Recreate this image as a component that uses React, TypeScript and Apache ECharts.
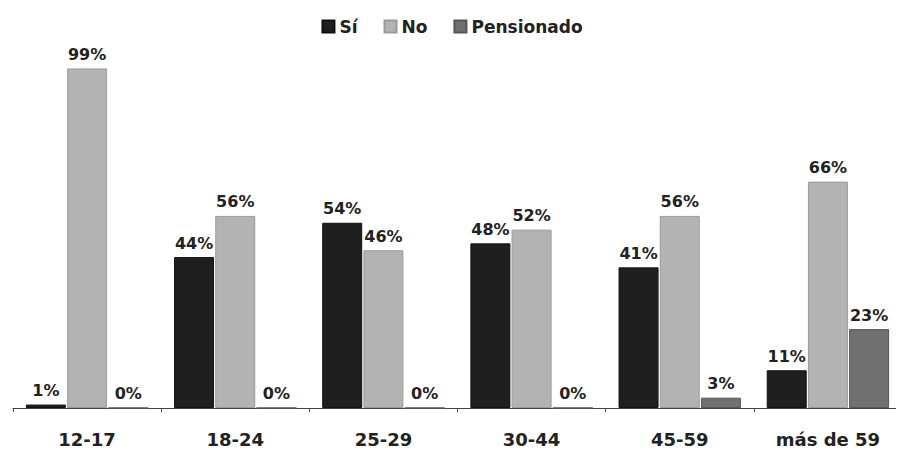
import React, { useEffect, useRef } from "react";
import * as echarts from "echarts";

const categories = ["12-17", "18-24", "25-29", "30-44", "45-59", "más de 59"];
const si = [1, 44, 54, 48, 41, 11];
const no = [99, 56, 46, 52, 56, 66];
const pensionado = [0, 0, 0, 0, 3, 23];

const FONT = "'DejaVu Sans', Verdana, sans-serif";

export default function App() {
  const ref = useRef<HTMLDivElement>(null);

  useEffect(() => {
    const chart = echarts.init(ref.current!, null, { renderer: "svg" });
    const label = {
      show: true,
      position: "top" as const,
      distance: 6,
      formatter: "{c}%",
      color: "#222",
      fontFamily: FONT,
      fontWeight: "bold" as const,
      fontSize: 16,
    };
    const mk = (name: string, data: number[], color: string, border: string) => ({
      name,
      type: "bar" as const,
      data,
      barWidth: 40,
      barGap: "3%",
      itemStyle: { color, borderColor: border, borderWidth: 1 },
      label,
    });
    chart.setOption({
      animation: false,
      backgroundColor: "#fff",
      legend: {
        top: 13,
        left: "center",
        itemWidth: 12,
        itemHeight: 12,
        itemGap: 26,
        icon: "rect",
        textStyle: { fontFamily: FONT, fontWeight: "bold", fontSize: 17, color: "#222" },
        data: ["Sí", "No", "Pensionado"],
      },
      grid: { left: 13, right: 2, top: 65, bottom: 48 },
      xAxis: {
        type: "category",
        data: categories,
        axisLine: { lineStyle: { color: "#444", width: 1 } },
        axisTick: { show: true, length: 4, lineStyle: { color: "#444" } },
        axisLabel: {
          margin: 22,
          color: "#222",
          fontFamily: FONT,
          fontWeight: "bold",
          fontSize: 18,
        },
      },
      yAxis: {
        type: "value",
        min: 0,
        max: 100,
        show: false,
        splitLine: { show: false },
      },
      series: [
        mk("Sí", si, "#1f1f1f", "#111"),
        mk("No", no, "#b3b3b3", "#9a9a9a"),
        mk("Pensionado", pensionado, "#707070", "#555"),
      ],
    });
    return () => chart.dispose();
  }, []);

  return <div ref={ref} style={{ width: 904, height: 456, margin: -8 }} />;
}
